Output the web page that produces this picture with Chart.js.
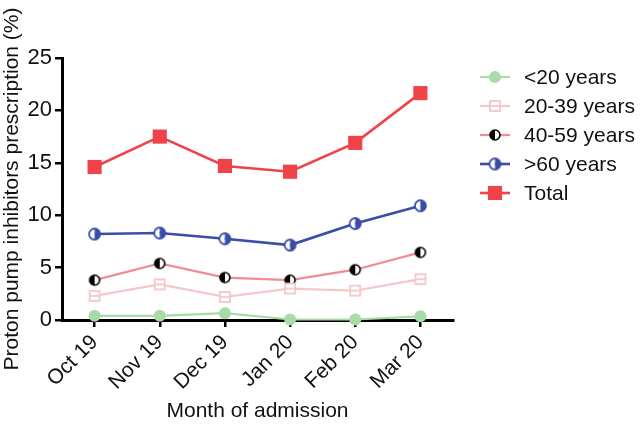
<!DOCTYPE html>
<html>
<head>
<meta charset="utf-8">
<script src="https://cdn.jsdelivr.net/npm/chart.js@4"></script>
<style>
  html, body { margin: 0; padding: 0; background: #fff; }
  #wrap { width: 640px; height: 424px; }
</style>
</head>
<body>
<div id="wrap"><canvas id="chart" width="640" height="424"></canvas></div>
<script>
const months = ["Oct 19", "Nov 19", "Dec 19", "Jan 20", "Feb 20", "Mar 20"];
const under20 = [0.4, 0.4, 0.65, 0.05, 0.05, 0.35];
const age20to39 = [2.3, 3.4, 2.2, 3.0, 2.8, 3.9];
const age40to59 = [3.8, 5.4, 4.05, 3.8, 4.8, 6.45];
const over60 = [8.2, 8.3, 7.75, 7.15, 9.2, 10.9];
const total = [14.6, 17.5, 14.7, 14.15, 16.9, 21.65];
const yTicks = [0, 5, 10, 15, 20, 25];

const FONT = "'Liberation Sans', Arial, Helvetica, sans-serif";

// small canvases used as point markers
function marker(size, draw) {
  const c = document.createElement("canvas");
  c.width = size;
  c.height = size;
  draw(c.getContext("2d"), size / 2);
  return c;
}

function halfCircle(r, stroke, leftFill, rightFill, lw) {
  const size = Math.ceil(2 * r + lw + 2);
  return marker(size, (ctx, c) => {
    ctx.fillStyle = leftFill;
    ctx.beginPath();
    ctx.arc(c, c, r, Math.PI / 2, Math.PI * 1.5);
    ctx.closePath();
    ctx.fill();
    ctx.fillStyle = rightFill;
    ctx.beginPath();
    ctx.arc(c, c, r, -Math.PI / 2, Math.PI / 2);
    ctx.closePath();
    ctx.fill();
    ctx.strokeStyle = stroke;
    ctx.lineWidth = lw;
    ctx.beginPath();
    ctx.arc(c, c, r, 0, Math.PI * 2);
    ctx.stroke();
  });
}

function hollowSquare(side, color, lw) {
  const size = Math.ceil(side + lw + 2);
  return marker(size, (ctx, c) => {
    ctx.fillStyle = "#fff";
    ctx.fillRect(c - side / 2, c - side / 2, side, side);
    ctx.strokeStyle = color;
    ctx.lineWidth = lw;
    ctx.strokeRect(c - side / 2, c - side / 2, side, side);
    ctx.beginPath();
    ctx.moveTo(c - side / 2, c);
    ctx.lineTo(c + side / 2, c);
    ctx.stroke();
  });
}

const GREEN = "#a8dba6";
const PINK = "#f6c6ca";
const ROSE = "#ef8c96";
const BLUE = "#3a4ea8";
const RED = "#ef4349";

const markers = {
  m40: halfCircle(5, "#000", "#000", "#fff", 1.6),
  m60: halfCircle(5.5, BLUE, "#fff", BLUE, 1.8),
  m20: hollowSquare(10, PINK, 1.8),
};

const datasets = [
  { label: "<20 years", data: under20, borderColor: GREEN, backgroundColor: GREEN,
    pointStyle: "circle", pointRadius: 6, borderWidth: 2.2 },
  { label: "20-39 years", data: age20to39, borderColor: PINK, backgroundColor: PINK,
    pointStyle: markers.m20, borderWidth: 2.2 },
  { label: "40-59 years", data: age40to59, borderColor: ROSE, backgroundColor: ROSE,
    pointStyle: markers.m40, borderWidth: 2.2 },
  { label: ">60 years", data: over60, borderColor: BLUE, backgroundColor: BLUE,
    pointStyle: markers.m60, borderWidth: 2.6 },
  { label: "Total", data: total, borderColor: RED, backgroundColor: RED,
    pointStyle: "rect", pointRadius: 10, borderWidth: 2.6 },
];

datasets.forEach((d) => {
  d.tension = 0;
  d.clip = false;
  d.pointBorderWidth = 0;
  d.pointHoverRadius = d.pointRadius || 5;
});

// legend drawn on the right, line segment with marker then label
const sideLegend = {
  id: "sideLegend",
  afterDraw(chart) {
    const ctx = chart.ctx;
    const x0 = 480, x1 = 510, tx = 524;
    ctx.save();
    chart.data.datasets.forEach((d, i) => {
      const y = 77 + i * 29;
      ctx.strokeStyle = d.borderColor;
      ctx.lineWidth = d.borderWidth;
      ctx.beginPath();
      ctx.moveTo(x0, y);
      ctx.lineTo(x1, y);
      ctx.stroke();
      ctx.fillStyle = d.backgroundColor;
      ctx.strokeStyle = d.borderColor;
      ctx.lineWidth = 0;
      Chart.helpers.drawPoint(ctx, { pointStyle: d.pointStyle, radius: d.pointRadius || 5, rotation: 0, borderWidth: 0 }, (x0 + x1) / 2, y);
      ctx.fillStyle = "#111";
      ctx.font = "21px " + FONT;
      ctx.textBaseline = "middle";
      ctx.textAlign = "left";
      ctx.fillText(d.label, tx, y + 1);
    });
    ctx.restore();
  },
};

new Chart(document.getElementById("chart"), {
  type: "line",
  data: { labels: months, datasets },
  plugins: [sideLegend],
  options: {
    responsive: false,
    animation: false,
    layout: { padding: { top: 58, right: 187, left: 0, bottom: 0 } },
    plugins: { legend: { display: false }, tooltip: { enabled: false } },
    scales: {
      x: {
        offset: true,
        afterFit: (s) => { s.height = 104; },
        border: { color: "#000", width: 3 },
        grid: { offset: false, drawOnChartArea: false, drawTicks: true, tickLength: 7, color: "#000", lineWidth: 2.5 },
        ticks: { color: "#111", font: { family: FONT, size: 21 }, maxRotation: 45, minRotation: 45, padding: 3 },
        title: { display: true, text: "Month of admission", color: "#111", font: { family: FONT, size: 21 }, padding: { top: 0, bottom: 0 } },
      },
      y: {
        min: 0,
        max: 25,
        afterFit: (s) => { s.width = 62; },
        afterBuildTicks: (s) => { s.ticks = yTicks.map((v) => ({ value: v })); },
        border: { color: "#000", width: 3 },
        grid: { drawOnChartArea: false, drawTicks: true, tickLength: 7, color: "#000", lineWidth: 2.5 },
        ticks: { color: "#111", font: { family: FONT, size: 22 }, padding: 3 },
        title: { display: true, text: "Proton pump inhibitors prescription (%)", color: "#111", font: { family: FONT, size: 21 }, padding: 0 },
      },
    },
  },
});
</script>
</body>
</html>
